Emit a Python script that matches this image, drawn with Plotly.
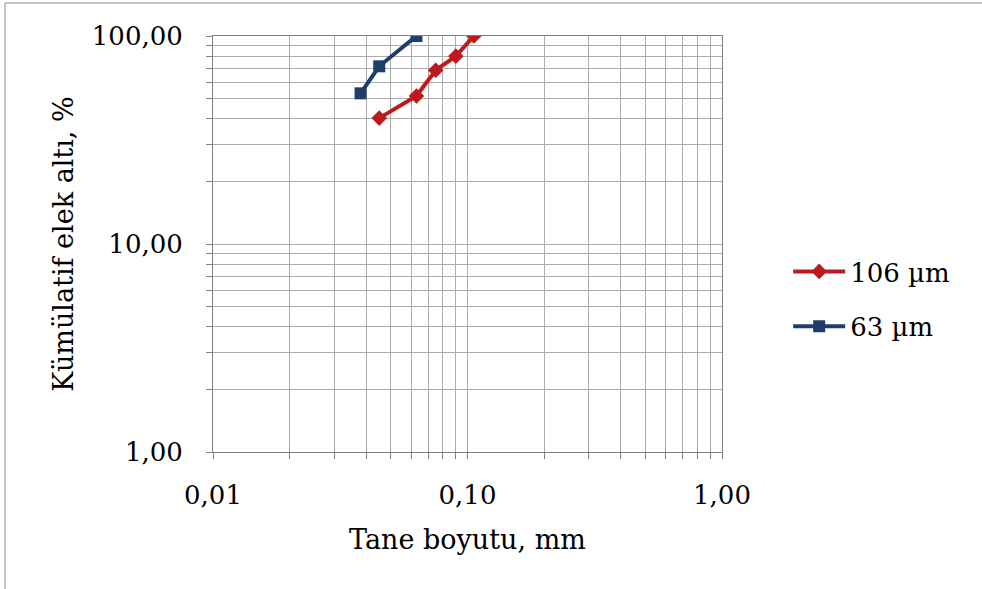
import plotly.graph_objects as go

# Data
x_106 = [0.045, 0.063, 0.075, 0.090, 0.106]
y_106 = [40.3, 51.5, 68.5, 80.0, 100.0]
x_63 = [0.038, 0.045, 0.063]
y_63 = [53.0, 71.5, 100.0]

x_major = [0.01, 0.1, 1.0]
x_major_text = ["0,01", "0,10", "1,00"]
y_major = [1, 10, 100]
y_major_text = ["1,00", "10,00", "100,00"]

def log_grid(decades, major, major_text):
    vals, texts = [], []
    for d in decades:
        for m in range(1, 10):
            v = round(d * m, 6)
            vals.append(v)
            texts.append(major_text[major.index(v)] if v in major else "")
    vals.append(major[-1]); texts.append(major_text[-1])
    return vals, texts

xv, xt = log_grid([0.01, 0.1], x_major, x_major_text)
yv, yt = log_grid([1, 10], y_major, y_major_text)

font_family = "DejaVu Serif, Liberation Serif, serif"

L, R, T, B = 213, 260, 36, 137
W, H = 982, 589
PW, PH = W - L - R, H - T - B

fig = go.Figure()
fig.add_trace(go.Scatter(x=x_106, y=y_106, name="106 µm", mode="lines+markers",
                         legendgroup="a",
                         line=dict(color="#BE1A1D", width=4),
                         marker=dict(symbol="diamond", size=12, color="#BE1A1D")))
fig.add_trace(go.Scatter(x=x_63, y=y_63, name="63 µm", mode="lines+markers",
                         legendgroup="b",
                         line=dict(color="#1F3F6B", width=4),
                         marker=dict(symbol="square", size=12, color="#1F3F6B")))

axis_common = dict(type="log", tickmode="array", showgrid=True, gridcolor="#ABABAB",
                   gridwidth=1, ticks="outside", ticklen=6, tickcolor="#7F7F7F",
                   showline=True, linecolor="#7F7F7F", linewidth=1, mirror=True,
                   zeroline=False, tickfont=dict(size=26))

fig.update_layout(
    width=W, height=H,
    margin=dict(l=L, r=R, t=T, b=B),
    paper_bgcolor="white", plot_bgcolor="white",
    font=dict(family=font_family, size=22, color="black"),
    legend=dict(x=1.13, y=(452 - 299) / PH, xanchor="left", yanchor="middle",
                font=dict(size=26), traceorder="grouped", tracegroupgap=18,
                itemwidth=52, bgcolor="rgba(0,0,0,0)"),
    xaxis=dict(axis_common, range=[-2, 0], tickvals=xv, ticktext=xt,
               ticklabelstandoff=14,
               title=dict(text="Tane boyutu, mm", font=dict(size=27), standoff=20)),
    yaxis=dict(axis_common, range=[0, 2], tickvals=yv, ticktext=yt,
               ticklabelstandoff=18,
               title=dict(text="Kümülatif elek altı, %", font=dict(size=27), standoff=10)),
    shapes=[dict(type="rect", xref="paper", yref="paper",
                 x0=(5 - L) / PW, x1=(990 - L) / PW,
                 y0=(452 - 600) / PH, y1=1 + (T - 3) / PH,
                 line=dict(color="#8C8C8C", width=1), fillcolor="rgba(0,0,0,0)", layer="below")],
)

fig.write_html("out.html", config={"displayModeBar": False},
               post_script="document.body.style.margin='0px';")
